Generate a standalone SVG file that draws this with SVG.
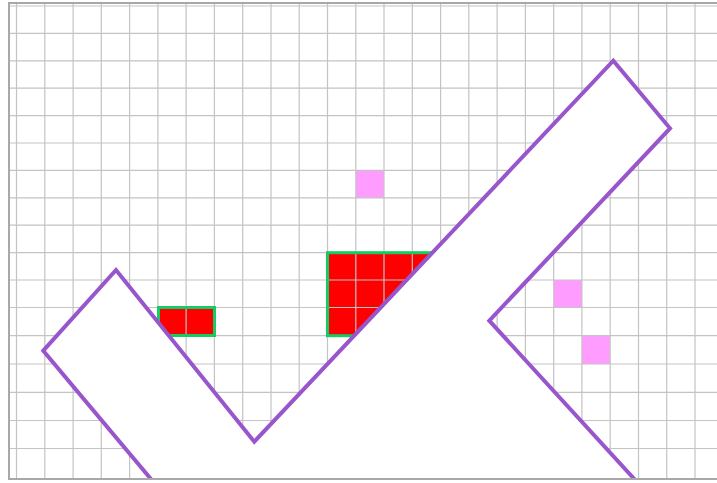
<svg xmlns="http://www.w3.org/2000/svg" width="717" height="483" viewBox="0 0 717 483">
<style>
.grid{stroke:#c4c4c4;stroke-width:1.2;fill:none}
.frame{stroke:#a8a8a8;stroke-width:2;fill:none}
.red{fill:#ff0000}
.box{fill:none;stroke:#14cc64;stroke-width:3}
.pink{fill:#ff9cff}
.shape{fill:#ffffff;stroke:#9955cc;stroke-width:4;stroke-linejoin:miter}
</style>
<defs>
<clipPath id="clip"><rect x="9" y="3" width="708" height="476"/></clipPath>
</defs>
<rect x="0" y="0" width="717" height="483" fill="#ffffff"/>
<g id="fills">
<rect id="red-small" class="red" x="158.5" y="307.5" width="56" height="28"/>
<rect id="red-big" class="red" x="327.5" y="252.7" width="113" height="83"/>
<rect id="pink-1" class="pink" x="356" y="171" width="28" height="27"/>
<rect id="pink-2" class="pink" x="554" y="280" width="28" height="27.5"/>
<rect id="pink-3" class="pink" x="582" y="335.7" width="28" height="28.3"/>
</g>
<g id="grid" clip-path="url(#clip)">
<path class="grid" d="M16.5 0V483M44.8 0V483M73.1 0V483M101.3 0V483M129.6 0V483M157.9 0V483M186.1 0V483M214.4 0V483M242.7 0V483M271 0V483M299.2 0V483M327.5 0V483M355.8 0V483M384 0V483M412.3 0V483M440.6 0V483M468.8 0V483M497.1 0V483M525.4 0V483M553.7 0V483M581.9 0V483M610.2 0V483M638.5 0V483M666.7 0V483M695 0V483"/>
<path class="grid" d="M0 6H717M0 33.4H717M0 60.8H717M0 88.2H717M0 115.6H717M0 143H717M0 170.4H717M0 197.8H717M0 225.2H717M0 252.7H717M0 280H717M0 307.5H717M0 335.7H717M0 364H717M0 392.3H717M0 420.5H717M0 448.5H717"/>
</g>
<g id="boxes">
<rect id="box-small" class="box" x="158.5" y="307.5" width="56" height="28"/>
<rect id="box-big" class="box" x="327.5" y="252.7" width="113" height="83"/>
</g>
<g id="check" clip-path="url(#clip)">
<polygon class="shape" points="43.3,350.7 116,270 254.3,441.7 613.3,60.7 670,128.3 489.3,320.7 637,482 632,500 156,500 153.4,482"/>
</g>
<rect class="frame" x="9" y="3" width="710" height="476"/>
</svg>
